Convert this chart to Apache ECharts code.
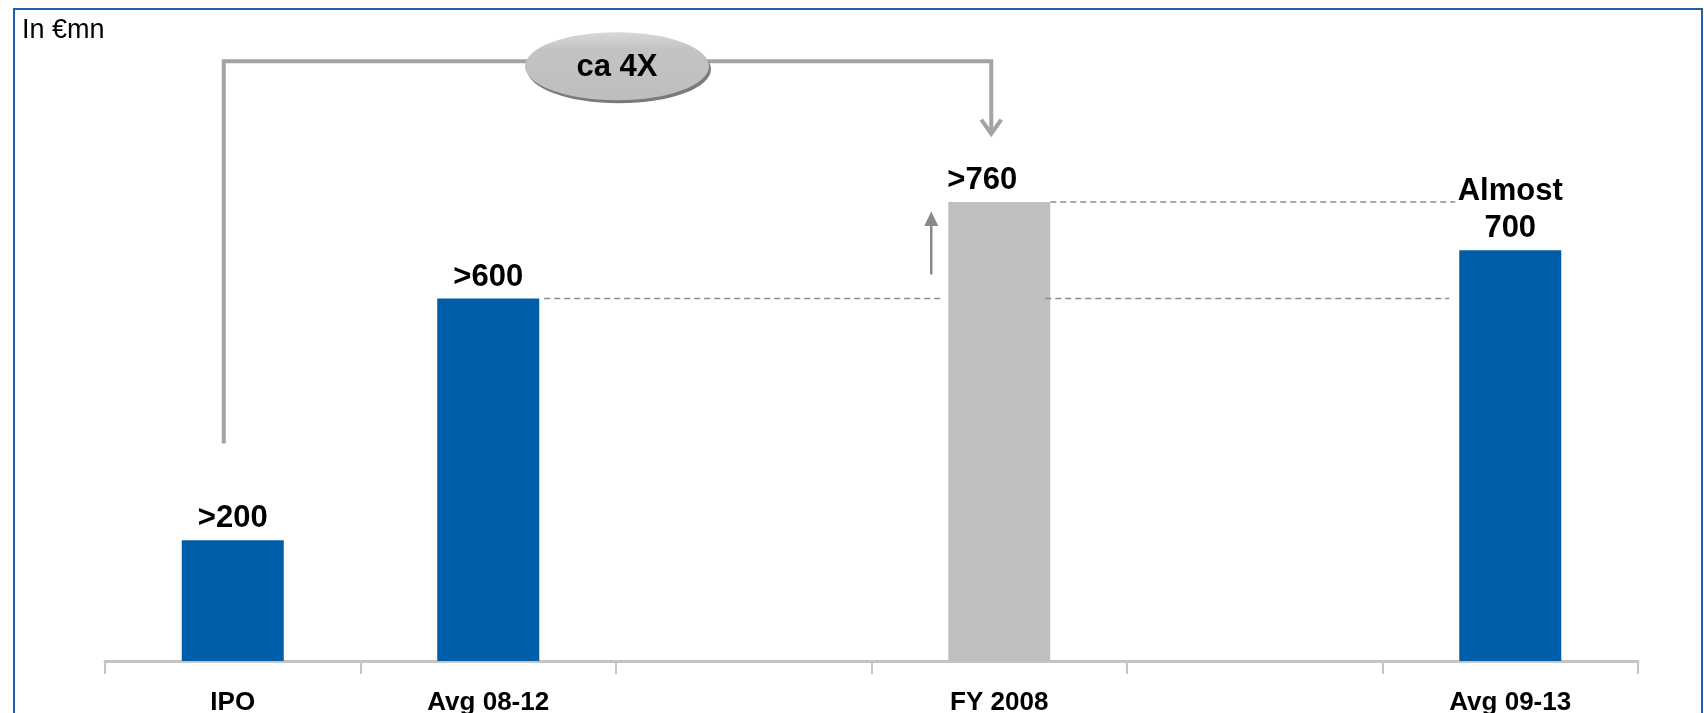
<!DOCTYPE html>
<html>
<head>
<meta charset="utf-8">
<title>Earnings comparison</title>
<script src="https://cdn.jsdelivr.net/npm/echarts@6/dist/echarts.min.js"></script>
<style>
  html, body { margin: 0; padding: 0; background: #ffffff; }
  #chart { width: 1704px; height: 713px; }
</style>
</head>
<body>
<div id="chart"></div>
<script>
// Categories along the axis (blank slots keep the spacing between groups)
const categories = ['IPO', 'Avg 08-12', '', 'FY 2008', '', 'Avg 09-13'];
// Bar values, in € million
const values = [200, 600, null, 760, null, 680];
// Text shown above each bar
const valueLabels = ['>200', '>600', '', '>760', '', 'Almost\n700'];
// Unit caption and the multiple shown in the bubble
const unitCaption = 'In €mn';
const multipleText = 'ca 4X';

const FONT = '"Liberation Sans", Arial, Helvetica, sans-serif';
const BLUE = '#005EA8';
const GREY_BAR = '#BFBFBF';
const LINE_GREY = '#A3A3A3';
const DASH_GREY = '#8C8C8C';

const chart = echarts.init(document.getElementById('chart'), null, { renderer: 'canvas' });

const barData = values.map(function (v, i) {
  if (v === null) return '-';
  const isYear = categories[i] === 'FY 2008';
  const item = {
    value: v,
    itemStyle: { color: isYear ? GREY_BAR : BLUE }
  };
  // the single-year label sits a little to the left, clear of the bracket arrow
  if (isYear) item.label = { offset: [-17, 0] };
  return item;
});

const option = {
  animation: false,
  backgroundColor: '#ffffff',
  grid: { left: 105, right: 66, top: 57, bottom: 52, containLabel: false, outerBoundsMode: 'none' },
  xAxis: {
    type: 'category',
    data: categories,
    boundaryGap: true,
    axisLine: { show: true, lineStyle: { color: '#C4C4C4', width: 3 } },
    axisTick: { show: true, interval: 0, length: 13, lineStyle: { color: '#C4C4C4', width: 2 } },
    axisLabel: {
      interval: 0,
      margin: 29,
      color: '#000000',
      fontFamily: FONT,
      fontWeight: 'bold',
      fontSize: 26
    }
  },
  yAxis: {
    type: 'value',
    min: 0,
    max: 1000,
    show: false,
    splitLine: { show: false }
  },
  series: [{
    type: 'bar',
    data: barData,
    barWidth: 102,
    label: {
      show: true,
      position: 'top',
      distance: 3,
      color: '#000000',
      fontFamily: FONT,
      fontWeight: 'bold',
      fontSize: 31,
      lineHeight: 37,
      align: 'center',
      formatter: function (p) { return valueLabels[p.dataIndex]; }
    }
  }]
};

chart.setOption(option);

// Annotation layer positioned from the chart's own coordinate system
function px(i, v) { return chart.convertToPixel({ gridIndex: 0 }, [i, v]); }
const half = 51;
const iIPO = 0, iAvg1 = 1, iFY = 3, iAvg2 = 5;

const ipoBase = px(iIPO, 360);
const topY = px(iIPO, 993)[1];
const fyArrowTip = px(iFY, 873);
const bubble = { x: 617, y: topY + 5 };
const lvl600 = px(iAvg1, values[iAvg1])[1];
const lvl760 = px(iFY, values[iFY])[1];
const xAvg1R = px(iAvg1, 0)[0] + half;
const xFYL = px(iFY, 0)[0] - half;
const xFYR = px(iFY, 0)[0] + half;
const xAvg2L = px(iAvg2, 0)[0] - half;
const bracketLeftX = ipoBase[0] - 9;
const bracketRightX = fyArrowTip[0] - 8;
const upArrowX = xFYL - 17;

const dashStyle = { stroke: DASH_GREY, lineWidth: 1.5, lineDash: [6, 4] };

const graphics = [
  // outer frame
  { type: 'rect', shape: { x: 14, y: 9, width: 1688, height: 720 },
    style: { fill: 'none', stroke: '#1A62AA', lineWidth: 2 }, z: 1, silent: true },
  // unit caption
  { type: 'text', x: 22, y: 31, style: { text: unitCaption, font: '27px ' + FONT, fill: '#000', textVerticalAlign: 'middle' }, z: 10 },
  // dashed reference lines
  { type: 'line', shape: { x1: xAvg1R + 5, y1: lvl600, x2: xFYL - 6, y2: lvl600 }, style: dashStyle, z: 5 },
  { type: 'line', shape: { x1: xFYR - 5, y1: lvl600, x2: xAvg2L - 10, y2: lvl600 }, style: dashStyle, z: 5 },
  { type: 'line', shape: { x1: xFYR, y1: lvl760, x2: xAvg2L - 4, y2: lvl760 }, style: dashStyle, z: 5 },
  // bracket from IPO to FY 2008
  { type: 'polyline', shape: { points: [[bracketLeftX, ipoBase[1]], [bracketLeftX, topY], [bracketRightX, topY], [bracketRightX, fyArrowTip[1] - 2]] },
    style: { stroke: LINE_GREY, lineWidth: 4, fill: 'none', lineJoin: 'miter' }, z: 5 },
  // chevron arrow head
  { type: 'polyline', shape: { points: [[bracketRightX - 10, fyArrowTip[1] - 14], [bracketRightX, fyArrowTip[1]], [bracketRightX + 10, fyArrowTip[1] - 14]] },
    style: { stroke: LINE_GREY, lineWidth: 4, fill: 'none', lineJoin: 'miter' }, z: 5 },
  // small upward arrow beside FY 2008
  { type: 'line', shape: { x1: upArrowX, y1: px(iFY, 640)[1], x2: upArrowX, y2: px(iFY, 735)[1] }, style: { stroke: '#8A8A8A', lineWidth: 2.5 }, z: 5 },
  { type: 'polygon', shape: { points: [[upArrowX - 7, px(iFY, 720)[1]], [upArrowX, px(iFY, 744)[1]], [upArrowX + 7, px(iFY, 720)[1]]] }, style: { fill: '#8A8A8A' }, z: 5 },
  // bubble
  { type: 'ellipse', shape: { cx: bubble.x + 2, cy: bubble.y + 3, rx: 92, ry: 34 }, style: { fill: '#7A7A7A' }, z: 6 },
  { type: 'ellipse', shape: { cx: bubble.x, cy: bubble.y, rx: 92, ry: 34 },
    style: { fill: new echarts.graphic.LinearGradient(0, 0, 0, 1, [
      { offset: 0, color: '#D8D8D8' }, { offset: 0.25, color: '#C3C3C3' }, { offset: 1, color: '#BEBEBE' }
    ]) }, z: 7 },
  { type: 'text', x: bubble.x, y: bubble.y + 1, style: { text: multipleText, font: 'bold 31px ' + FONT, fill: '#000', textAlign: 'center', textVerticalAlign: 'middle' }, z: 8 }
];

chart.setOption({ graphic: graphics });
</script>
</body>
</html>
